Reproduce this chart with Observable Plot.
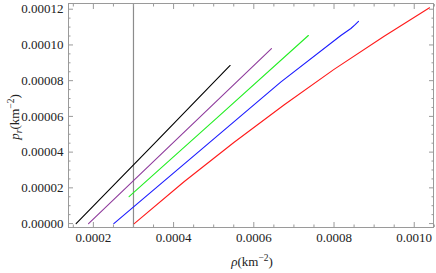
<!DOCTYPE html>
<html>
<head>
<meta charset="utf-8">
<script src="https://cdn.jsdelivr.net/npm/d3@7"></script>
<script src="https://cdn.jsdelivr.net/npm/@observablehq/plot@0.6"></script>
<style>
  html, body { margin: 0; padding: 0; background: #fff; }
  svg { display: block; }
  svg text, svg tspan, svg g { font-family: 'Liberation Serif', 'Times New Roman', serif !important; }
</style>
</head>
<body>
<div id="chart"></div>
<script>
// Series (rho in km^-2, p_r in km^-2)
const seriesNames = ["black", "purple", "green", "blue", "red"];
const seriesColors = ["#000000", "#8e3a9c", "#22ee22", "#1a1aff", "#ff1a1a"];

const rhoBlack = [0.000157, 0.00035, 0.000541];
const prBlack  = [0, 0.0000443, 0.0000885];

const rhoPurple = [0.000188, 0.000416, 0.000644];
const prPurple  = [0, 0.000049, 0.0000979];

const rhoGreen = [0.000289, 0.000513, 0.000736];
const prGreen  = [0.0000151, 0.0000602, 0.0001053];

const rhoBlue = [0.000251, 0.000468, 0.000667, 0.000817, 0.000842, 0.000852, 0.000861];
const prBlue  = [0, 0.0000413, 0.0000792, 0.0001053, 0.0001092, 0.0001112, 0.0001132];

const rhoRed = [0.000302, 0.000426, 0.000551, 0.000676, 0.0008, 0.000925, 0.001038];
const prRed  = [0, 0.0000234, 0.0000455, 0.0000665, 0.0000863, 0.0001049, 0.0001208];

const verticalRho = [0.0003];

const xMajorTicks = [0.0002, 0.0004, 0.0006, 0.0008, 0.0010];
const xMinorTicks = [0.00015, 0.00025, 0.0003, 0.00035, 0.00045, 0.0005, 0.00055, 0.00065, 0.0007, 0.00075, 0.00085, 0.0009, 0.00095, 0.00105];
const yMajorTicks = [0, 0.00002, 0.00004, 0.00006, 0.00008, 0.0001, 0.00012];
const yMinorTicks = [0.000005, 0.00001, 0.000015, 0.000025, 0.00003, 0.000035, 0.000045, 0.00005, 0.000055, 0.000065, 0.00007, 0.000075, 0.000085, 0.00009, 0.000095, 0.000105, 0.00011, 0.000115];

const xDomain = [0.000138, 0.001048];
const yDomain = [-0.0000022, 0.0001232];

const allRho = [rhoBlack, rhoPurple, rhoGreen, rhoBlue, rhoRed];
const allPr = [prBlack, prPurple, prGreen, prBlue, prRed];
const rows = [];
allRho.forEach((xs, s) => xs.forEach((x, i) => rows.push({series: seriesNames[s], color: seriesColors[s], rho: x, pr: allPr[s][i]})));

const frameColor = "#9a9a9a";
const font = "'Liberation Serif', 'Times New Roman', serif";

function tickAxes(xt, yt, size) {
  return [
    Plot.axisX(xt, {anchor: "bottom", tickSize: size, dy: -size, tickFormat: () => "", stroke: frameColor, label: null}),
    Plot.axisX(xt, {anchor: "top", tickSize: size, dy: size, tickFormat: () => "", stroke: frameColor, label: null}),
    Plot.axisY(yt, {anchor: "left", tickSize: size, dx: size, tickFormat: () => "", stroke: frameColor, label: null}),
    Plot.axisY(yt, {anchor: "right", tickSize: size, dx: -size, tickFormat: () => "", stroke: frameColor, label: null})
  ];
}

const plot = Plot.plot({
  width: 436,
  height: 273,
  marginLeft: 68,
  marginRight: 3,
  marginTop: 3,
  marginBottom: 46,
  style: {fontFamily: font, background: "#fff"},
  x: {domain: xDomain, axis: null},
  y: {domain: yDomain, axis: null},
  marks: [
    Plot.ruleX(verticalRho, {stroke: "#8c8c8c", strokeWidth: 1.2}),
    Plot.line(rows, {x: "rho", y: "pr", z: "series", stroke: "color", strokeWidth: 1.1}),
    Plot.frame({stroke: frameColor}),
    ...tickAxes(xMajorTicks, yMajorTicks, 5),
    ...tickAxes(xMinorTicks, yMinorTicks, 2.5),
    Plot.axisX(xMajorTicks, {anchor: "bottom", tickSize: 0, tickPadding: 5, tickFormat: d => d.toFixed(4), fontSize: 13, fontFamily: font, fill: "#222", label: null}),
    Plot.axisY(yMajorTicks, {anchor: "left", tickSize: 0, tickPadding: 5, tickFormat: d => d.toFixed(5), fontSize: 13, fontFamily: font, fill: "#222", label: null})
  ]
});

document.getElementById("chart").appendChild(plot);

// Axis titles with super/subscripts
const svg = d3.select(plot);
const xl = svg.append("text")
  .attr("x", 252).attr("y", 266)
  .attr("text-anchor", "middle")
  .attr("font-size", 13).attr("fill", "#222");
xl.append("tspan").attr("font-style", "italic").text("ρ");
xl.append("tspan").text("(km");
xl.append("tspan").attr("dy", -5).attr("font-size", 9.5).text("−2");
xl.append("tspan").attr("dy", 5).text(")");

const yl = svg.append("text")
  .attr("transform", "translate(19,117) rotate(-90)")
  .attr("text-anchor", "middle")
  .attr("font-size", 13).attr("fill", "#222");
yl.append("tspan").attr("font-style", "italic").text("p");
yl.append("tspan").attr("font-style", "italic").attr("dy", 3).attr("font-size", 9.5).text("r");
yl.append("tspan").attr("dy", -3).text("(km");
yl.append("tspan").attr("dy", -5).attr("font-size", 9.5).text("−2");
yl.append("tspan").attr("dy", 5).text(")");
</script>
</body>
</html>
